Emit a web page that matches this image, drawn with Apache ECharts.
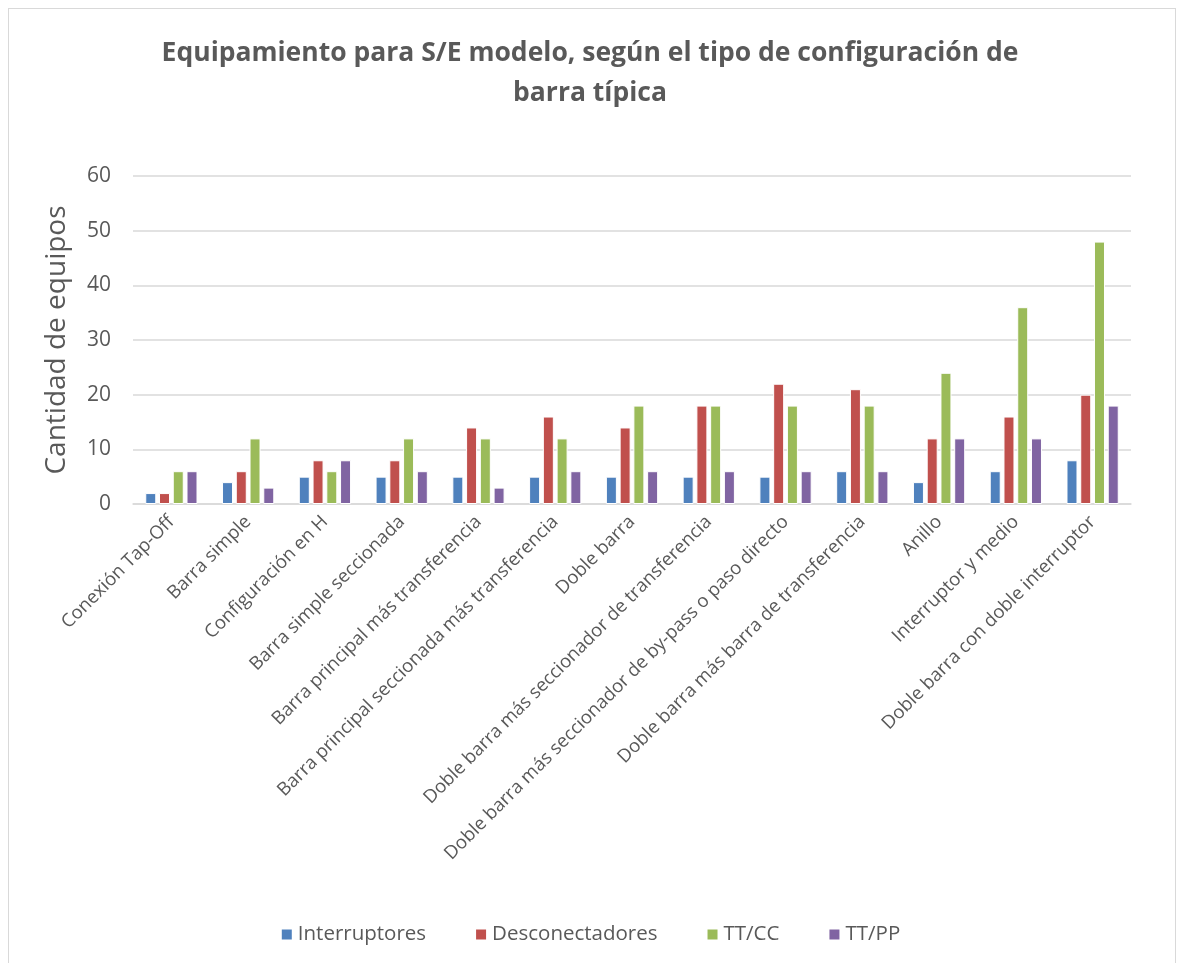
<!DOCTYPE html>
<html>
<head>
<meta charset="utf-8">
<script src="https://cdn.jsdelivr.net/npm/echarts@6/dist/echarts.min.js"></script>
<style>
  html, body { margin: 0; padding: 0; background: #fff; }
  #frame { position: absolute; left: 8px; top: 8px; width: 1168px; height: 960px; border: 1px solid #d9d9d9; box-sizing: border-box; }
  #chart { width: 1180px; height: 963px; }
</style>
</head>
<body>
<div id="frame"></div>
<div id="chart"></div>
<script>
const categories = [
  'Conexión Tap-Off',
  'Barra simple',
  'Configuración en H',
  'Barra simple seccionada',
  'Barra principal más transferencia',
  'Barra principal seccionada más transferencia',
  'Doble barra',
  'Doble barra más seccionador de transferencia',
  'Doble barra más seccionador de by-pass o paso directo',
  'Doble barra más barra de transferencia',
  'Anillo',
  'Interruptor y medio',
  'Doble barra con doble interruptor'
]
const interruptores   = [2, 4, 5, 5, 5, 5, 5, 5, 5, 6, 4, 6, 8]
const desconectadores = [2, 6, 8, 8, 14, 16, 14, 18, 22, 21, 12, 16, 20]
const ttcc            = [6, 12, 6, 12, 12, 12, 18, 18, 18, 18, 24, 36, 48]
const ttpp            = [6, 3, 8, 6, 3, 6, 6, 6, 6, 6, 12, 12, 18]
const yTicks = [0, 10, 20, 30, 40, 50, 60]

const FONT = '"Open Sans", "Noto Sans", sans-serif'
const TXT = '#595959'

const chart = echarts.init(document.getElementById('chart'), null, { renderer: 'canvas' })

const bar = (name, color, data) => ({
  name,
  type: 'bar',
  data,
  barWidth: 11,
  barGap: '25%',
  itemStyle: { color, borderColor: '#ffffff', borderWidth: 1 }
})

chart.setOption({
  backgroundColor: 'transparent',
  animation: false,
  textStyle: { fontFamily: FONT },
  title: {
    text: 'Equipamiento para S/E modelo, según el tipo de configuración de\nbarra típica',
    left: 'center',
    top: 28,
    textStyle: { fontFamily: FONT, fontSize: 26.5, fontWeight: 'bold', color: TXT, lineHeight: 40 }
  },
  legend: {
    bottom: 13,
    left: 'center',
    itemWidth: 12,
    itemHeight: 12,
    itemGap: 48,
    icon: 'rect',
    textStyle: { fontFamily: FONT, fontSize: 20.5, color: TXT },
    data: ['Interruptores', 'Desconectadores', 'TT/CC', 'TT/PP']
  },
  grid: { left: 133, right: 49, top: 176, bottom: 459, containLabel: false },
  xAxis: {
    type: 'category',
    data: categories,
    axisLine: { lineStyle: { color: '#d9d9d9', width: 1.5 } },
    axisTick: { show: false },
    axisLabel: { rotate: 45, interval: 0, fontFamily: FONT, fontSize: 18.5, color: TXT, margin: 15 }
  },
  yAxis: {
    type: 'value',
    min: yTicks[0],
    max: yTicks[yTicks.length - 1],
    interval: 10,
    name: 'Cantidad de equipos',
    nameLocation: 'middle',
    nameGap: 62,
    nameTextStyle: { fontFamily: FONT, fontSize: 28, color: TXT },
    axisLine: { show: false },
    axisTick: { show: false },
    axisLabel: { fontFamily: FONT, fontSize: 21, color: TXT, margin: 22 },
    splitLine: { lineStyle: { color: '#d9d9d9', width: 1.5 } }
  },
  series: [
    bar('Interruptores', '#4f81bd', interruptores),
    bar('Desconectadores', '#c0504d', desconectadores),
    bar('TT/CC', '#9bbb59', ttcc),
    bar('TT/PP', '#8064a2', ttpp)
  ]
})
</script>
</body>
</html>
